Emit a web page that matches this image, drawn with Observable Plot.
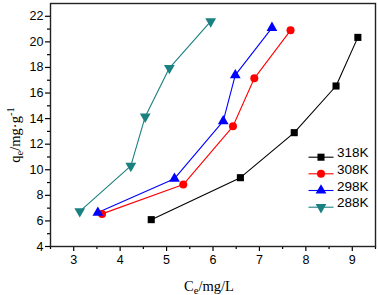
<!DOCTYPE html>
<html>
<head>
<meta charset="utf-8">
<script src="https://cdn.jsdelivr.net/npm/d3@7"></script>
<script src="https://cdn.jsdelivr.net/npm/@observablehq/plot@0.6"></script>
<style>
  html, body { margin: 0; padding: 0; background: #fff; }
  #chart svg { display: block; }
</style>
</head>
<body>
<div id="chart"></div>
<script>
// ---- data ----
const temps = ["318K", "308K", "298K", "288K"];
const colors = ["#000000", "#ff0000", "#0000ff", "#1a8080"];
const symbols = ["square", "circle", "triangle", "triangle"];
const rotations = [0, 0, 0, 180];

const ce318 = [4.67, 6.59, 7.75, 8.65, 9.12];
const qe318 = [6.10, 9.38, 12.9, 16.55, 20.35];
const ce308 = [3.61, 5.36, 6.43, 6.89, 7.67];
const qe308 = [6.55, 8.84, 13.4, 17.15, 20.9];
const ce298 = [3.52, 5.17, 6.22, 6.48, 7.27];
const qe298 = [6.65, 9.30, 13.8, 17.4, 21.1];
const ce288 = [3.13, 4.23, 4.54, 5.06, 5.95];
const qe288 = [6.75, 10.3, 14.15, 17.95, 21.6];

const xTicks = [3, 4, 5, 6, 7, 8, 9];
const xMinor = [2.5, 3.5, 4.5, 5.5, 6.5, 7.5, 8.5, 9.5];
const yTicks = [4, 6, 8, 10, 12, 14, 16, 18, 20, 22];
const yMinor = [5, 7, 9, 11, 13, 15, 17, 19, 21];

const ceAll = [ce318, ce308, ce298, ce288];
const qeAll = [qe318, qe308, qe298, qe288];

const series = temps.map((t, i) => ceAll[i].map((c, j) => ({ T: t, ce: c, qe: qeAll[i][j] })));

const sans = "Liberation Sans, Arial, sans-serif";
const serif = "Liberation Serif, Times New Roman, serif";

const lineSym = {
  draw(ctx) { ctx.moveTo(-12.5, 0); ctx.lineTo(12.5, 0); }
};

const legendRowDy = [-89.3, -72.7, -56, -39.3];

const marks = [];
series.forEach((d, i) => {
  marks.push(Plot.line(d, { x: "ce", y: "qe", stroke: colors[i], strokeWidth: 1.1 }));
});
series.forEach((d, i) => {
  marks.push(Plot.dot(d, { x: "ce", y: "qe", symbol: symbols[i], rotate: rotations[i], r: 4, fill: colors[i], stroke: "none" }));
});
// legend
temps.forEach((t, i) => {
  const row = [t];
  marks.push(Plot.dot(row, { frameAnchor: "bottom-right", dx: -54.5, dy: legendRowDy[i], symbol: lineSym, r: 1, stroke: colors[i], strokeWidth: 1.1, fill: "none" }));
  marks.push(Plot.dot(row, { frameAnchor: "bottom-right", dx: -54.5, dy: legendRowDy[i], symbol: symbols[i], rotate: rotations[i], r: 4, fill: colors[i], stroke: "none" }));
  marks.push(Plot.text(row, { frameAnchor: "bottom-right", dx: -38.5, dy: legendRowDy[i], text: d => d, textAnchor: "start", fontSize: 13.5, fontFamily: sans, fill: "#000" }));
});
// axes
marks.push(Plot.axisX({ ticks: xTicks, tickFormat: d => String(d), tickSize: 5, tickPadding: 4, fontSize: 12.5, fontFamily: sans, label: null, stroke: "#000", color: "#000", strokeWidth: 1.2 }));
marks.push(Plot.axisX({ ticks: xMinor, tickSize: 3, text: null, label: null, stroke: "#000", strokeWidth: 1.2 }));
marks.push(Plot.axisY({ ticks: yTicks, tickFormat: d => String(d), tickSize: 5, tickPadding: 2, fontSize: 12.5, fontFamily: sans, label: null, stroke: "#000", color: "#000", strokeWidth: 1.2 }));
marks.push(Plot.axisY({ ticks: yMinor, tickSize: 3, text: null, label: null, stroke: "#000", strokeWidth: 1.2 }));
marks.push(Plot.frame({ stroke: "#222", strokeWidth: 1.4 }));

const chart = Plot.plot({
  width: 378,
  height: 295,
  marginLeft: 50,
  marginRight: 3,
  marginTop: 3,
  marginBottom: 49,
  style: { background: "#fff", overflow: "visible" },
  x: { domain: [2.5, 9.5] },
  y: { domain: [4, 23] },
  marks
});

// axis titles with sub/superscripts
const svg = d3.select(chart);
const xl = svg.append("text")
  .attr("x", 209).attr("y", 291)
  .attr("text-anchor", "middle")
  .attr("font-family", serif).attr("font-size", 14.5).attr("fill", "#000");
xl.append("tspan").text("C");
xl.append("tspan").attr("dy", 3).attr("font-size", 10.5).text("e");
xl.append("tspan").attr("dy", -3).text("/mg/L");

const yl = svg.append("text")
  .attr("transform", "translate(20,135) rotate(-90)")
  .attr("text-anchor", "middle")
  .attr("font-family", serif).attr("font-size", 14.5).attr("fill", "#000");
yl.append("tspan").text("q");
yl.append("tspan").attr("dy", 3).attr("font-size", 10.5).text("e");
yl.append("tspan").attr("dy", -3).text("/mg·g");
yl.append("tspan").attr("dy", -6).attr("font-size", 10.5).text("-1");

document.getElementById("chart").appendChild(chart);
</script>
</body>
</html>
